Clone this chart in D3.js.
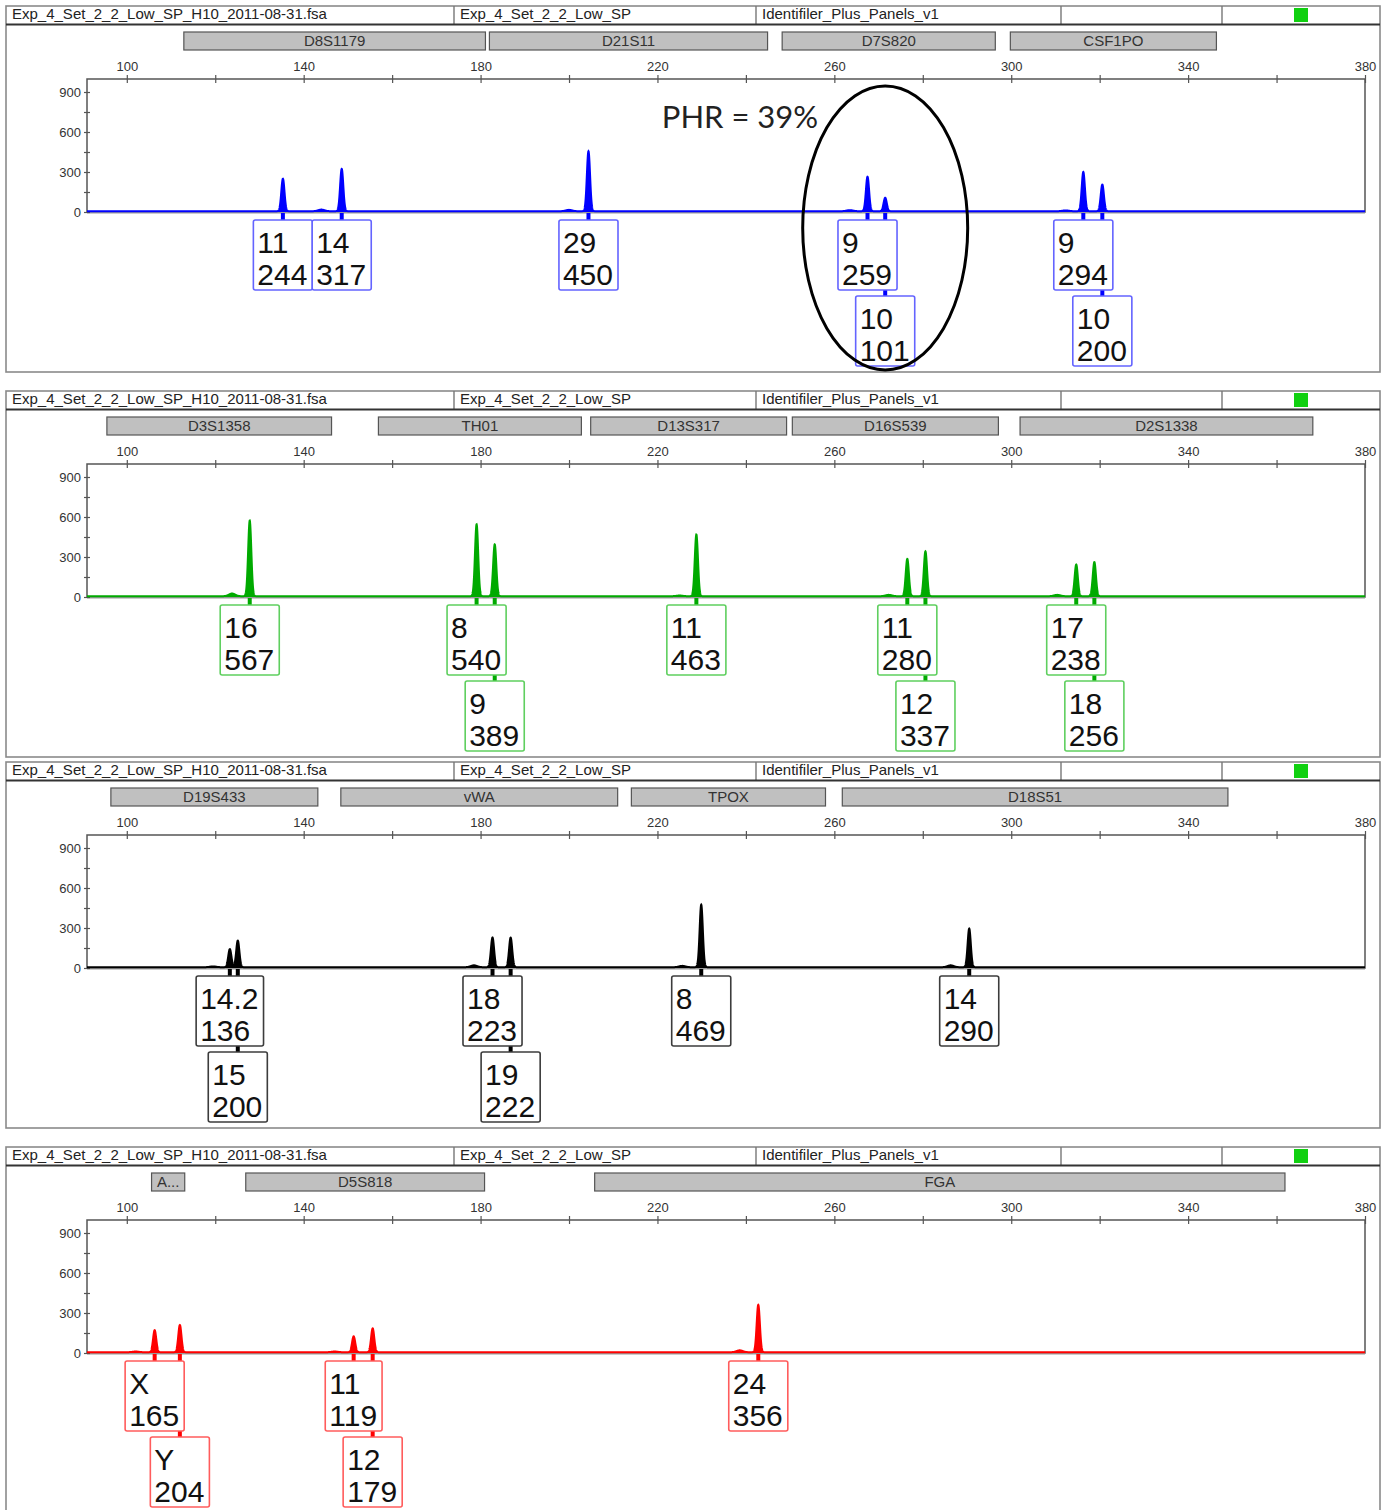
<!DOCTYPE html>
<html>
<head>
<meta charset="utf-8">
<script src="https://cdn.jsdelivr.net/npm/d3@7"></script>
<style>
  body { margin: 0; background: #fff; }
  svg { display: block; }
</style>
</head>
<body>
<svg id="chart" width="1390" height="1510"></svg>
<script>
// ---------- data ----------
const sizeDomain = [91, 380];                 // bp
const sizeTicks = [100, 120, 140, 160, 180, 200, 220, 240, 260, 280, 300, 320, 340, 360, 380];
const sizeLabels = [100, 140, 180, 220, 260, 300, 340, 380];
const rfuDomain = [0, 1000];
const rfuTicks = [0, 150, 300, 450, 600, 750, 900];
const rfuLabels = [0, 300, 600, 900];

const headerCells = ["Exp_4_Set_2_2_Low_SP_H10_2011-08-31.fsa", "Exp_4_Set_2_2_Low_SP", "Identifiler_Plus_Panels_v1", "", ""];

// marker bins (name, start bp, end bp)
const blueLoci = [["D8S1179", 112.9, 181.1], ["D21S11", 182.0, 244.9], ["D7S820", 248.2, 296.4], ["CSF1PO", 299.8, 346.4]];
const greenLoci = [["D3S1358", 95.5, 146.3], ["TH01", 156.9, 202.8], ["D13S317", 204.9, 249.2], ["D16S539", 250.5, 297.1], ["D2S1338", 302.0, 368.2]];
const yellowLoci = [["D19S433", 96.4, 143.2], ["vWA", 148.4, 211.0], ["TPOX", 214.1, 258.0], ["D18S51", 261.8, 349.0]];
const redLoci = [["A...", 105.6, 113.1], ["D5S818", 126.9, 180.9], ["FGA", 205.8, 361.9]];

// called alleles (allele, size bp, height RFU)
const blueAlleles = [["11", 135.3, 244], ["14", 148.6, 317], ["29", 204.4, 450], ["9", 267.5, 259], ["10", 271.5, 101], ["9", 316.3, 294], ["10", 320.6, 200]];
const greenAlleles = [["16", 127.8, 567], ["8", 179.1, 540], ["9", 183.2, 389], ["11", 228.8, 463], ["11", 276.5, 280], ["12", 280.6, 337], ["17", 314.7, 238], ["18", 318.8, 256]];
const yellowAlleles = [["14.2", 123.3, 136], ["15", 125.1, 200], ["18", 182.7, 223], ["19", 186.8, 222], ["8", 229.9, 469], ["14", 290.5, 290]];
const redAlleles = [["X", 106.3, 165], ["Y", 112.0, 204], ["11", 151.3, 119], ["12", 155.6, 179], ["24", 242.8, 356]];

// small stutter / artefact bumps (size bp, height RFU)
const blueMinor = [[144.0, 12], [200.0, 10], [263.5, 8], [312.3, 6]];
const greenMinor = [[123.8, 20], [272.3, 10], [310.4, 10], [225.0, 5]];
const yellowMinor = [[178.5, 14], [225.6, 10], [286.3, 14], [119.5, 6]];
const redMinor = [[238.6, 14], [147.0, 5], [102.0, 5]];

const traceColors = ["#0000ff", "#00aa00", "#000000", "#ff0000"];
const boxColors = ["#6464ff", "#5fcf5f", "#3c3c3c", "#ff5c5c"];

// ---------- layout ----------
const panels = [
  { loci: blueLoci, alleles: blueAlleles, minor: blueMinor },
  { loci: greenLoci, alleles: greenAlleles, minor: greenMinor },
  { loci: yellowLoci, alleles: yellowAlleles, minor: yellowMinor },
  { loci: redLoci, alleles: redAlleles, minor: redMinor }
];
const panelTops = [0, 385, 756, 1141];
const frame = { x0: 6, x1: 1380, y0: 6, y1: 372 };
const headerBottom = 24;
const dividers = [454, 756, 1061, 1222];
const binY = 32, binH = 18;
const plot = { left: 87, right: 1365, top: 79, bottom: 212 };
const boxTop = 220, boxH = 70, rowGap = 6;
const baseRFU = 6;
const callFont = 30;

const svg = d3.select("#chart");
const x = d3.scaleLinear().domain(sizeDomain).range([plot.left, plot.right]);
const y = d3.scaleLinear().domain(rfuDomain).range([plot.bottom, plot.bottom - 1000 * 40 / 300]);

svg.append("defs").append("clipPath").attr("id", "plotClip")
  .append("rect").attr("x", plot.left).attr("y", plot.top - 2)
  .attr("width", plot.right - plot.left).attr("height", plot.bottom - plot.top + 3);

const arial = "'Liberation Sans', Arial, sans-serif";

// text measurer for allele call boxes
const measurer = svg.append("text").attr("font-family", arial)
  .attr("font-size", callFont).attr("visibility", "hidden");
function textWidth(s) { measurer.text(s); return measurer.node().getComputedTextLength(); }

panels.forEach((p, i) => {
  const g = svg.append("g").attr("transform", `translate(0,${panelTops[i]})`);
  const col = traceColors[i];

  // frame + header row
  g.append("rect").attr("x", frame.x0).attr("y", frame.y0)
    .attr("width", frame.x1 - frame.x0).attr("height", frame.y1 - frame.y0)
    .attr("fill", "#fff").attr("stroke", "#8a8a8a").attr("stroke-width", 1.6);
  g.selectAll("line.div").data(dividers).join("line").attr("class", "div")
    .attr("x1", d => d).attr("x2", d => d).attr("y1", frame.y0).attr("y2", headerBottom)
    .attr("stroke", "#777").attr("stroke-width", 1.4);
  const cellStarts = [frame.x0].concat(dividers);
  g.selectAll("text.hdr").data(headerCells).join("text").attr("class", "hdr")
    .attr("x", (d, k) => cellStarts[k] + 6).attr("y", 19)
    .attr("font-family", arial).attr("font-size", 15).attr("fill", "#222")
    .text(d => d);
  g.append("line").attr("x1", frame.x0).attr("x2", frame.x1)
    .attr("y1", headerBottom + 0.5).attr("y2", headerBottom + 0.5)
    .attr("stroke", "#333").attr("stroke-width", 1.8);
  g.append("rect").attr("x", 1294).attr("y", 8).attr("width", 14).attr("height", 14)
    .attr("fill", "#10d010");

  // marker bins
  const bins = g.selectAll("g.bin").data(p.loci).join("g").attr("class", "bin");
  bins.append("rect").attr("x", d => x(d[1])).attr("y", binY)
    .attr("width", d => x(d[2]) - x(d[1])).attr("height", binH)
    .attr("fill", "#c0c0c0").attr("stroke", "#555").attr("stroke-width", 1.2);
  bins.append("text").attr("x", d => (x(d[1]) + x(d[2])) / 2).attr("y", binY + 14)
    .attr("text-anchor", "middle").attr("font-family", arial).attr("font-size", 15)
    .attr("fill", "#333").text(d => d[0]);

  // plot box
  g.append("rect").attr("x", plot.left).attr("y", plot.top)
    .attr("width", plot.right - plot.left).attr("height", plot.bottom - plot.top)
    .attr("fill", "none").attr("stroke", "#555").attr("stroke-width", 1.5);
  g.append("line").attr("x1", plot.left).attr("x2", plot.right)
    .attr("y1", plot.bottom + 0.5).attr("y2", plot.bottom + 0.5)
    .attr("stroke", "#999").attr("stroke-width", 2);

  // size axis (top)
  const xa = g.append("g").attr("transform", `translate(0,${plot.top})`)
    .call(d3.axisTop(x).tickValues(sizeTicks).tickSizeInner(4).tickSizeOuter(0).tickPadding(4)
      .tickFormat(d => sizeLabels.includes(d) ? d : ""));
  xa.select(".domain").remove();
  xa.selectAll(".tick line").attr("y1", 4).attr("y2", -4).attr("stroke", "#555").attr("stroke-width", 1.2);
  xa.selectAll(".tick text").attr("font-family", arial).attr("font-size", 13).attr("fill", "#333");

  // RFU axis (left)
  const ya = g.append("g").attr("transform", `translate(${plot.left},0)`)
    .call(d3.axisLeft(y).tickValues(rfuTicks).tickSizeInner(3).tickSizeOuter(0).tickPadding(3)
      .tickFormat(d => rfuLabels.includes(d) ? d : ""));
  ya.select(".domain").remove();
  ya.selectAll(".tick line").attr("x1", -3).attr("x2", 3).attr("stroke", "#555").attr("stroke-width", 1.2);
  ya.selectAll(".tick text").attr("font-family", arial).attr("font-size", 13).attr("fill", "#333");

  // electropherogram trace
  const peaks = p.alleles.map(a => ({ size: a[1], rfu: a[2], s: 0.36 }))
    .concat(p.minor.map(m => ({ size: m[0], rfu: m[1], s: 0.7 })));
  const sizes = d3.range(sizeDomain[0], sizeDomain[1] + 0.001, 0.03);
  const trace = sizes.map(bp => {
    let v = baseRFU;
    for (const k of peaks) {
      const z = (bp - k.size) / k.s;
      if (Math.abs(z) < 8) v += k.rfu * Math.exp(-0.5 * z * z);
    }
    return [bp, v];
  });
  const tg = g.append("g").attr("clip-path", "url(#plotClip)");
  tg.append("path").datum(trace)
    .attr("d", d3.area().x(d => x(d[0])).y0(y(0)).y1(d => y(d[1])))
    .attr("fill", col);
  tg.append("path").datum(trace)
    .attr("d", d3.line().x(d => x(d[0])).y(d => y(d[1])))
    .attr("fill", "none").attr("stroke", col).attr("stroke-width", 2);

  // allele call boxes, stacked into a second row when they collide
  let lastRight = -Infinity;
  const calls = p.alleles.map(a => {
    const w = Math.max(textWidth(a[0]), textWidth(String(a[2]))) + 9;
    const cx = x(a[1]);
    const left = cx - w / 2;
    let row = 0;
    if (left >= lastRight - 2) { lastRight = left + w; } else { row = 1; }
    return { allele: a[0], rfu: a[2], cx, w, left, row };
  });
  calls.forEach(c => {
    g.append("line").attr("x1", c.cx).attr("x2", c.cx)
      .attr("y1", plot.bottom + 1).attr("y2", boxTop)
      .attr("stroke", col).attr("stroke-width", 4);
    if (c.row === 1) {
      g.append("line").attr("x1", c.cx).attr("x2", c.cx)
        .attr("y1", boxTop + boxH).attr("y2", boxTop + boxH + rowGap)
        .attr("stroke", col).attr("stroke-width", 4);
    }
  });
  calls.forEach(c => {
    const top = boxTop + c.row * (boxH + rowGap);
    g.append("rect").attr("x", c.left).attr("y", top).attr("width", c.w).attr("height", boxH)
      .attr("rx", 2).attr("fill", "#fff").attr("stroke", boxColors[i]).attr("stroke-width", 1.6);
    g.append("text").attr("x", c.left + 4).attr("y", top + 33)
      .attr("font-family", arial).attr("font-size", callFont).attr("fill", "#111").text(c.allele);
    g.append("text").attr("x", c.left + 4).attr("y", top + 65)
      .attr("font-family", arial).attr("font-size", callFont).attr("fill", "#111").text(c.rfu);
  });

  // peak height ratio annotation on D7S820
  if (i === 0) {
    const pair = blueAlleles.slice(3, 5);
    const phr = Math.round(Math.min(pair[0][2], pair[1][2]) / Math.max(pair[0][2], pair[1][2]) * 100);
    const ex = x(pair[1][1]);
    g.append("ellipse").attr("cx", ex).attr("cy", 228).attr("rx", 82.5).attr("ry", 142)
      .attr("fill", "none").attr("stroke", "#000").attr("stroke-width", 3);
    g.append("text").attr("x", ex - 67).attr("y", 128).attr("text-anchor", "end")
      .attr("font-family", "Lato, 'Open Sans', sans-serif").attr("font-size", 31).attr("fill", "#222")
      .text(`PHR = ${phr}%`);
  }
});
measurer.remove();
</script>
</body>
</html>
